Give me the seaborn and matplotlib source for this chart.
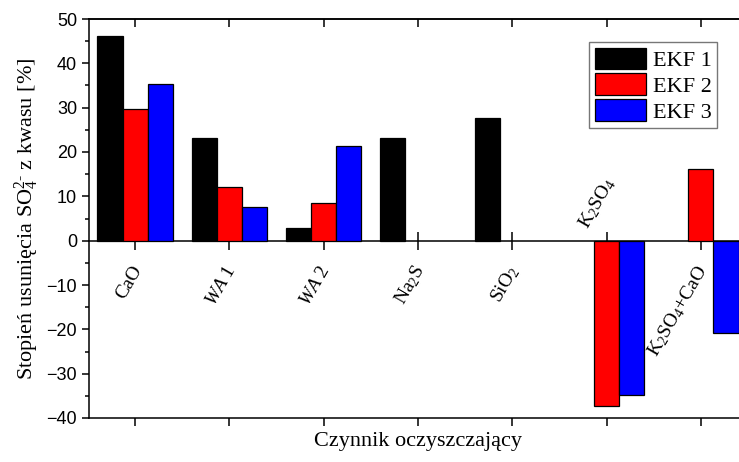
import numpy as np
import pandas as pd
import matplotlib
matplotlib.use("Agg")
import matplotlib.pyplot as plt
from matplotlib.ticker import MultipleLocator
import seaborn as sns

# data
categories = ["CaO", "WA 1", "WA 2", "Na2S", "SiO2", "K2SO4", "K2SO4+CaO"]
series = ["EKF 1", "EKF 2", "EKF 3"]
ekf1 = [46.2, 23.2, 2.9, 23.2, 27.7, np.nan, np.nan]
ekf2 = [29.7, 12.0, 8.5, np.nan, np.nan, -37.3, 16.2]
ekf3 = [35.3, 7.6, 21.4, np.nan, np.nan, -34.8, -20.9]
cat_labels = ["CaO", r"$\mathit{WA\ 1}$", r"$\mathit{WA\ 2}$", r"Na$_2$S", r"SiO$_2$",
              r"K$_2$SO$_4$", r"K$_2$SO$_4$+CaO"]

colors = ["#000000", "#ff0000", "#0000ff"]

sns.set_style("ticks")
plt.rcParams["font.family"] = ["Liberation Serif", "DejaVu Serif"]
plt.rcParams["mathtext.fontset"] = "custom"
plt.rcParams["mathtext.rm"] = "Liberation Serif"
plt.rcParams["mathtext.it"] = "Liberation Serif:italic"
plt.rcParams["axes.linewidth"] = 1.1
plt.rcParams["axes.edgecolor"] = "black"
plt.rcParams["text.color"] = "black"
plt.rcParams["axes.labelcolor"] = "black"
plt.rcParams["xtick.color"] = "black"
plt.rcParams["ytick.color"] = "black"

df = pd.DataFrame({
    "cat": categories * 3,
    "series": np.repeat(series, len(categories)),
    "val": ekf1 + ekf2 + ekf3,
}).dropna()

fig = plt.figure(figsize=(7.39, 4.62), dpi=100)
ax = fig.add_axes([89 / 739, 1 - 418 / 462, 658 / 739, 399 / 462])

sns.barplot(data=df, x="cat", y="val", hue="series", order=categories,
            hue_order=series, palette=colors, saturation=1, width=0.8,
            edgecolor="black", linewidth=0.9, ax=ax)

ax.set_xlim(-0.49, 6.49)
ax.set_ylim(-40, 50)
ax.set_yticks(np.arange(-40, 51, 10))
ax.yaxis.set_minor_locator(MultipleLocator(5))
for lab in ax.get_yticklabels():
    lab.set_fontfamily("Liberation Sans")
    lab.set_fontsize(13)
ax.tick_params(axis="y", which="major", direction="out", length=5, width=1.1)
ax.tick_params(axis="y", which="minor", direction="out", length=3, width=1.1)
ax.tick_params(axis="x", direction="out", length=6, width=1.1, labelbottom=False)
ax.set_xlabel("Czynnik oczyszczający", fontsize=16)
ax.set_ylabel(r"Stopień usunięcia SO$_4^{2\text{-}}$ z kwasu [%]", fontsize=16, labelpad=4)
for s in ["top", "right"]:
    ax.spines[s].set_visible(True)

# top and right axes with inward ticks
top = ax.secondary_xaxis("top")
top.set_xticks(range(len(categories)))
top.tick_params(direction="in", length=6, width=1.1, labeltop=False)
right = ax.secondary_yaxis("right")
right.set_yticks(np.arange(-40, 51, 10))
right.tick_params(direction="in", length=6, width=1.1, labelright=False)

# zero line axis with crossing ticks
zero = ax.secondary_xaxis(40 / 90)
zero.set_xticks(range(len(categories)))
zero.tick_params(direction="inout", length=13, width=1.1, labelbottom=False)
zero.spines["bottom"].set_linewidth(1.1)

# category labels
for i, lab in enumerate(cat_labels):
    if categories[i] == "K2SO4":
        ax.text(i - 0.25, 3.0, lab, rotation=60, rotation_mode="anchor",
                ha="left", va="center", fontsize=14)
    else:
        ax.text(i + 0.03, -6.0, lab, rotation=60, rotation_mode="anchor",
                ha="right", va="center", fontsize=14)

leg = ax.legend(loc="upper right", bbox_to_anchor=(717 / 739, 1 - 42 / 462),
                bbox_transform=fig.transFigure, borderaxespad=0, fontsize=16,
                frameon=True, fancybox=False, edgecolor="#555555",
                handlelength=2.3, handleheight=1.1, labelspacing=0.12,
                handletextpad=0.3, borderpad=0.25, title=None)
leg.get_frame().set_linewidth(1.0)

fig.savefig("out.png", dpi=100)
